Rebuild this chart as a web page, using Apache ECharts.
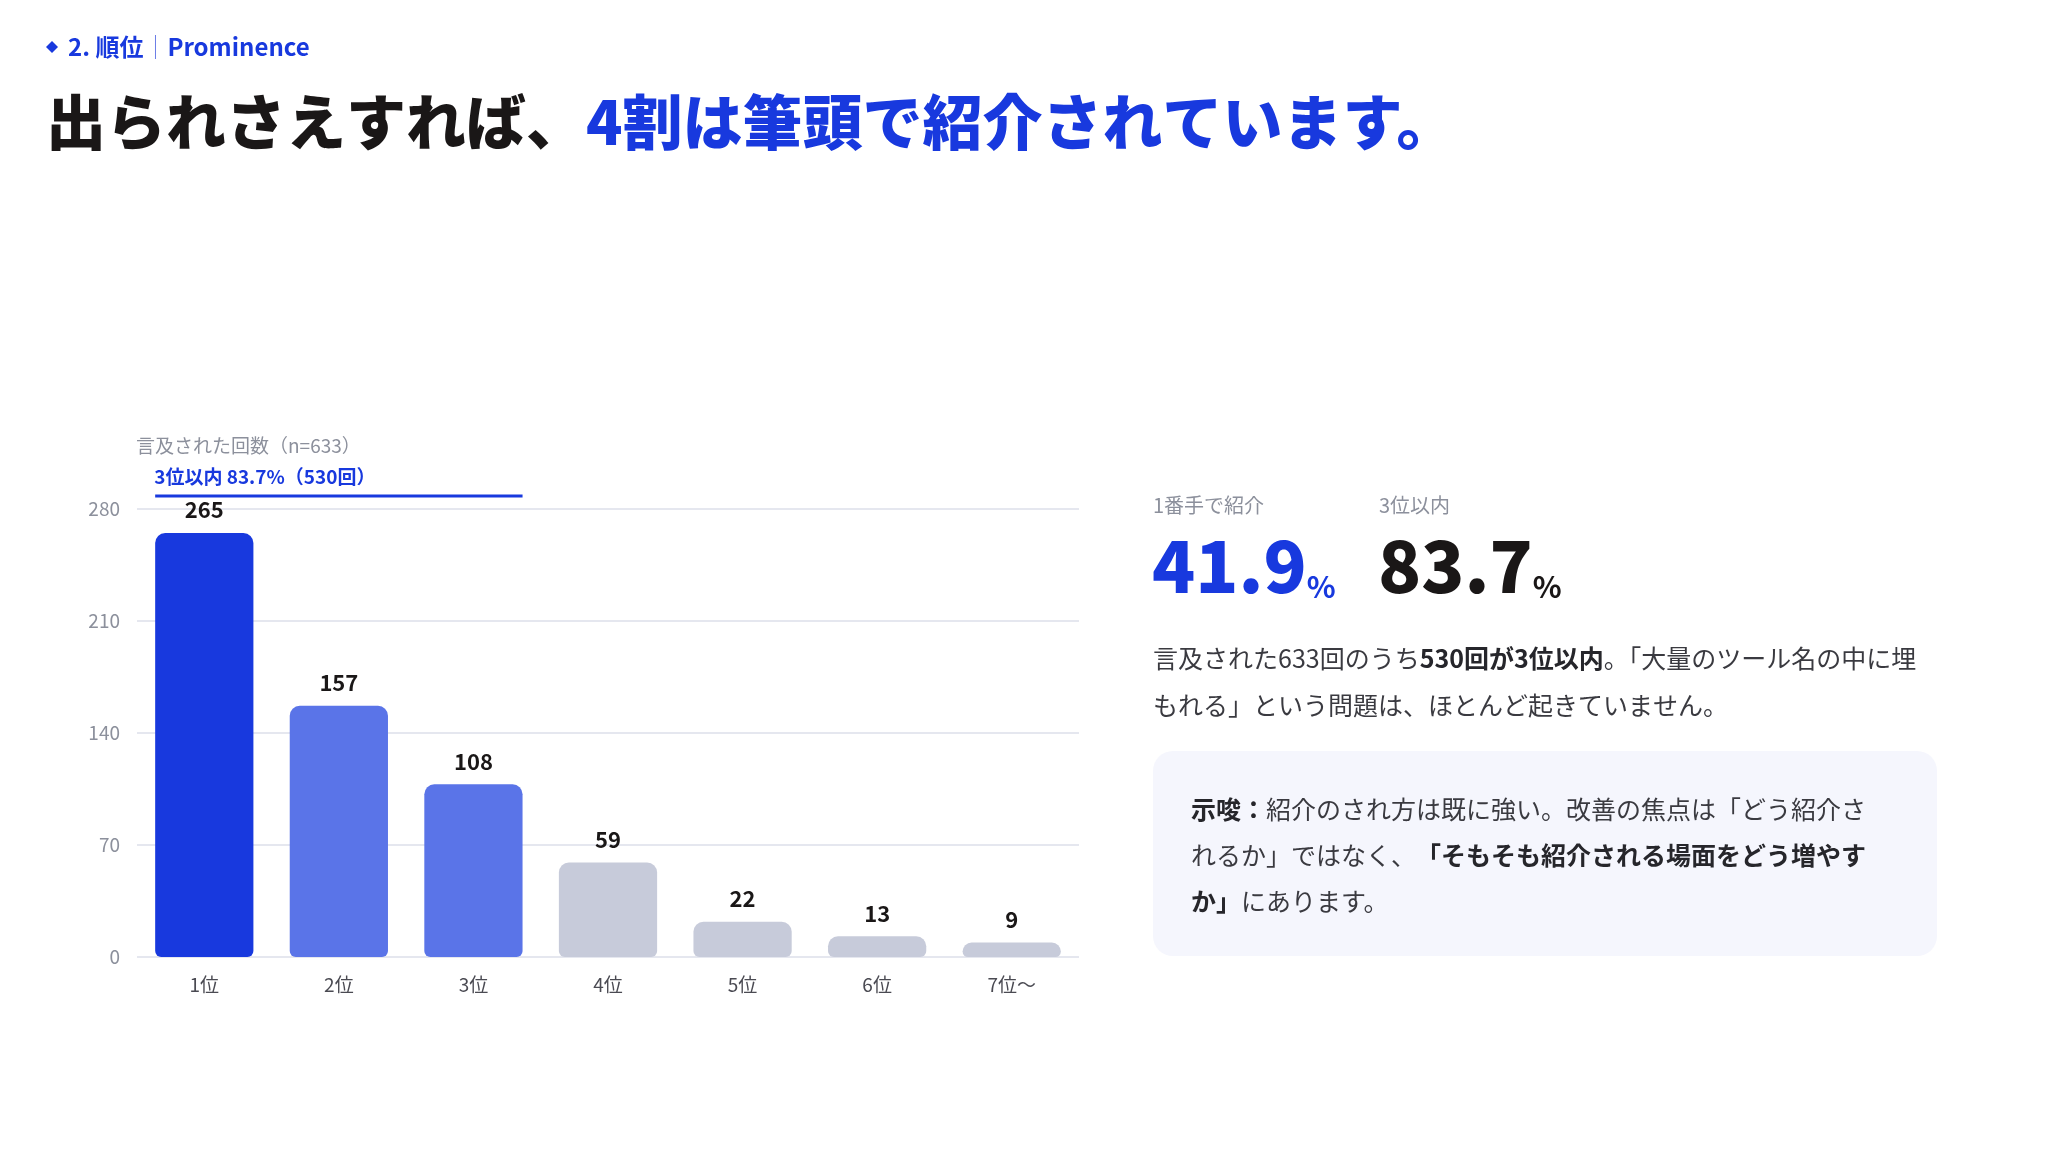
<!DOCTYPE html>
<html>
<head>
<meta charset="utf-8">
<title>順位 Prominence</title>
<script src="https://cdn.jsdelivr.net/npm/echarts@6/dist/echarts.min.js"></script>
<style>
  html, body { margin: 0; padding: 0; background: #fff; }
  #main { width: 2048px; height: 1152px; }
</style>
</head>
<body>
<div id="main"></div>
<script>
// 順位ごとの言及回数
var ranks = ['1位', '2位', '3位', '4位', '5位', '6位', '7位～'];
var counts = [265, 157, 108, 59, 22, 13, 9];
var yTicks = [0, 70, 140, 210, 280];
var barColors = ['#1839de', '#5a74e8', '#5a74e8', '#c7cbda', '#c7cbda', '#c7cbda', '#c7cbda'];
var kpiLabels = ['1番手で紹介', '3位以内'];

var FONT = '"Noto Sans CJK JP", "Noto Sans", sans-serif';
var BLUE = '#1839de';
var INK = '#1a1717';

var total = counts.reduce(function (a, b) { return a + b; }, 0); // 633
var top3 = counts[0] + counts[1] + counts[2];                      // 530
var kpiValues = [(counts[0] / total * 100).toFixed(1), (top3 / total * 100).toFixed(1)];

var chart = echarts.init(document.getElementById('main'));

var option = {
  backgroundColor: '#ffffff',
  animation: false,
  textStyle: { fontFamily: FONT },
  grid: { left: 137, right: 969, top: 509, bottom: 195 },
  xAxis: {
    type: 'category',
    data: ranks,
    axisLine: { show: false },
    axisTick: { show: false },
    axisLabel: { color: '#4a4a52', fontSize: 19, margin: 18, fontFamily: FONT }
  },
  yAxis: {
    type: 'value',
    min: yTicks[0],
    max: yTicks[yTicks.length - 1],
    interval: yTicks[1] - yTicks[0],
    axisLine: { show: false },
    axisTick: { show: false },
    axisLabel: { color: '#8c909c', fontSize: 19, margin: 17, fontFamily: FONT },
    splitLine: { lineStyle: { color: '#e5e7ef', width: 2 } }
  },
  series: [{
    type: 'bar',
    barWidth: '73%',
    data: counts.map(function (v, i) {
      return { value: v, itemStyle: { color: barColors[i] } };
    }),
    itemStyle: { borderRadius: [10, 10, 6, 6] },
    label: {
      show: true,
      position: 'top',
      distance: 12,
      color: INK,
      fontSize: 22,
      fontWeight: 'bold',
      fontFamily: FONT
    }
  }]
};
chart.setOption(option);

// 3位以内のブラケット位置を軸から計算
var band = chart.convertToPixel({ xAxisIndex: 0 }, ranks[1]) - chart.convertToPixel({ xAxisIndex: 0 }, ranks[0]);
var halfBar = band * 0.73 / 2;
var bx1 = chart.convertToPixel({ xAxisIndex: 0 }, ranks[0]) - halfBar;
var bx2 = chart.convertToPixel({ xAxisIndex: 0 }, ranks[2]) + halfBar;
var topY = chart.convertToPixel({ yAxisIndex: 0 }, yTicks[yTicks.length - 1]);

chart.setOption({
  graphic: [
    // 見出し
    {
      type: 'polygon',
      shape: { points: [[52, 41], [58, 47], [52, 53], [46, 47]] },
      style: { fill: BLUE }
    },
    {
      type: 'text', left: 68, top: 48 - 13,
      style: {
        text: '{b|2. 順位}{s|｜}{b|Prominence}',
        rich: {
          b: { fontSize: 24, fontWeight: 'bold', fill: BLUE, fontFamily: FONT },
          s: { fontSize: 24, fill: '#6d7fe6', fontFamily: FONT }
        }
      }
    },
    {
      type: 'text', left: 46, top: 132 - 40,
      style: {
        text: '{k|出られさえすれば、}{b|4割は筆頭で紹介されています。}',
        rich: {
          k: { fontSize: 60, fontWeight: 900, fill: INK, fontFamily: FONT, lineHeight: 80 },
          b: { fontSize: 60, fontWeight: 900, fill: BLUE, fontFamily: FONT, lineHeight: 80 }
        }
      }
    },
    // グラフ注記
    {
      type: 'text', left: 136, top: 448 - 12,
      style: { text: '言及された回数（n=' + total + '）', fontSize: 19, fill: '#8c909c', fontFamily: FONT }
    },
    {
      type: 'text', left: bx1 - 1, top: 479 - 12,
      style: {
        text: '3位以内 ' + kpiValues[1] + '%（' + top3 + '回）',
        fontSize: 19, fontWeight: 'bold', fill: BLUE, fontFamily: FONT
      }
    },
    {
      type: 'line',
      shape: { x1: bx1, y1: topY - 13, x2: bx2, y2: topY - 13 },
      style: { stroke: BLUE, lineWidth: 3 }
    },
    // KPI
    {
      type: 'text', left: 1153, top: 508 - 13,
      style: { text: kpiLabels[0], fontSize: 20, fill: '#8c909c', fontFamily: FONT }
    },
    {
      type: 'text', left: 1379, top: 508 - 13,
      style: { text: kpiLabels[1], fontSize: 20, fill: '#8c909c', fontFamily: FONT }
    },
    {
      type: 'text', left: 1152, top: 531,
      style: {
        text: '{v|' + kpiValues[0] + '}{p|%}',
        rich: {
          v: { fontSize: 71, fontWeight: 900, fill: BLUE, fontFamily: FONT, verticalAlign: 'bottom', lineHeight: 90 },
          p: { fontSize: 30, fontWeight: 'bold', fill: BLUE, fontFamily: FONT, verticalAlign: 'bottom', lineHeight: 66 }
        }
      }
    },
    {
      type: 'text', left: 1378, top: 531,
      style: {
        text: '{v|' + kpiValues[1] + '}{p|%}',
        rich: {
          v: { fontSize: 71, fontWeight: 900, fill: INK, fontFamily: FONT, verticalAlign: 'bottom', lineHeight: 90 },
          p: { fontSize: 30, fontWeight: 'bold', fill: INK, fontFamily: FONT, verticalAlign: 'bottom', lineHeight: 66 }
        }
      }
    },
    // 本文
    {
      type: 'text', left: 1153, top: 669 - 23.5,
      style: {
        text: '{n|言及された' + total + '回のうち}{s|' + top3 + '回が3位以内}{n|。「大量のツール名の中に埋}\n' +
              '{n|もれる」という問題は、ほとんど起きていません。}',
        rich: {
          n: { fontSize: 25, fill: '#3a3a40', fontFamily: FONT, lineHeight: 47 },
          s: { fontSize: 25, fontWeight: 'bold', fill: '#26262b', fontFamily: FONT, lineHeight: 47 }
        }
      }
    },
    // 示唆ボックス
    {
      type: 'rect',
      shape: { x: 1153, y: 751, width: 784, height: 205, r: 20 },
      style: { fill: '#f5f6fd' }
    },
    {
      type: 'text', left: 1191, top: 820 - 23.5,
      style: {
        text: '{s|示唆：}{n|紹介のされ方は既に強い。改善の焦点は「どう紹介さ}\n' +
              '{n|れるか」ではなく、}{s|「そもそも紹介される場面をどう増やす}\n' +
              '{s|か」}{n|にあります。}',
        rich: {
          n: { fontSize: 25, fill: '#3a3a40', fontFamily: FONT, lineHeight: 46 },
          s: { fontSize: 25, fontWeight: 'bold', fill: '#26262b', fontFamily: FONT, lineHeight: 46 }
        }
      }
    }
  ]
});
</script>
</body>
</html>
